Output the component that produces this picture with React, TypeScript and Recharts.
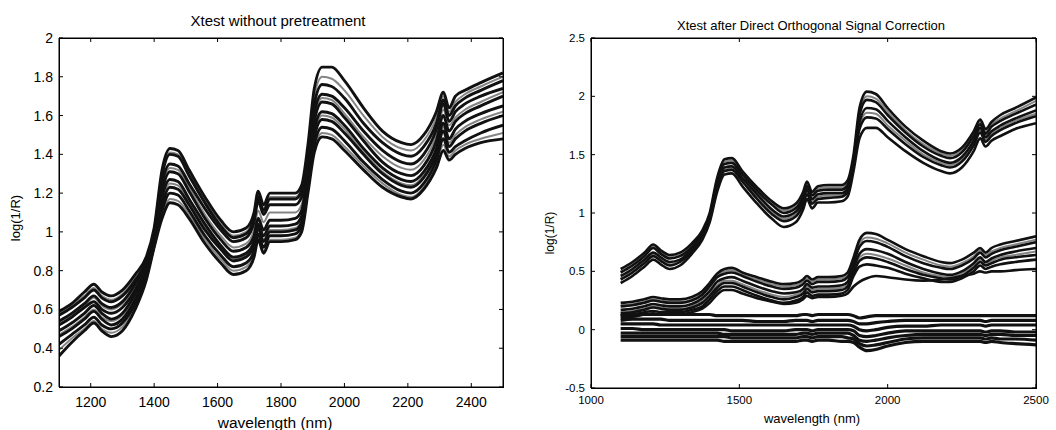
import React from 'react';
import { LineChart, Line, XAxis, YAxis } from 'recharts';

// wavelength grid (nm)
const W = [1100,1140,1180,1210,1235,1265,1300,1340,1375,1400,1425,1450,1475,1510,1560,1610,1650,1690,1715,1728,1745,1765,1800,1845,1865,1885,1905,1930,1960,2000,2060,2120,2180,2210,2250,2290,2312,2330,2350,2380,2430,2500];

// Left panel: raw spectra (log(1/R)) — dark curves
const L1 = [0.59,0.63,0.69,0.73,0.69,0.67,0.70,0.78,0.87,1.02,1.32,1.43,1.42,1.32,1.18,1.06,1.00,1.02,1.10,1.21,1.14,1.20,1.20,1.20,1.24,1.45,1.74,1.85,1.85,1.78,1.64,1.52,1.46,1.45,1.50,1.62,1.72,1.64,1.70,1.73,1.77,1.82];
const L2 = [0.57,0.61,0.66,0.70,0.66,0.64,0.67,0.75,0.85,1.00,1.29,1.40,1.39,1.29,1.15,1.03,0.97,0.99,1.07,1.18,1.11,1.17,1.17,1.17,1.21,1.40,1.66,1.76,1.75,1.69,1.56,1.46,1.40,1.39,1.44,1.56,1.68,1.60,1.65,1.69,1.73,1.78];
const L3 = [0.54,0.58,0.63,0.67,0.63,0.61,0.64,0.73,0.84,0.98,1.25,1.35,1.34,1.25,1.12,1.01,0.95,0.97,1.05,1.16,1.09,1.14,1.14,1.14,1.18,1.37,1.62,1.71,1.70,1.64,1.52,1.42,1.36,1.35,1.40,1.53,1.66,1.57,1.62,1.66,1.70,1.74];
const L4 = [0.52,0.56,0.61,0.64,0.60,0.58,0.61,0.70,0.82,0.96,1.21,1.31,1.30,1.21,1.07,0.96,0.90,0.92,0.98,1.07,1.01,1.06,1.06,1.07,1.11,1.32,1.57,1.67,1.66,1.59,1.47,1.36,1.30,1.29,1.34,1.47,1.60,1.52,1.57,1.61,1.65,1.70];
const L5 = [0.49,0.53,0.58,0.62,0.58,0.55,0.58,0.68,0.80,0.95,1.18,1.27,1.26,1.17,1.04,0.93,0.87,0.89,0.95,1.04,0.98,1.03,1.03,1.04,1.08,1.29,1.53,1.62,1.61,1.55,1.43,1.33,1.27,1.26,1.31,1.43,1.56,1.48,1.53,1.57,1.61,1.65];
const L6 = [0.46,0.50,0.55,0.59,0.55,0.52,0.55,0.65,0.78,0.94,1.14,1.23,1.22,1.14,1.01,0.91,0.85,0.87,0.93,1.02,0.95,1.00,1.00,1.01,1.05,1.26,1.49,1.58,1.57,1.51,1.40,1.30,1.24,1.23,1.28,1.40,1.52,1.44,1.48,1.52,1.56,1.60];
const L7 = [0.42,0.47,0.52,0.56,0.52,0.50,0.53,0.63,0.77,0.93,1.11,1.20,1.19,1.11,0.98,0.88,0.82,0.84,0.90,0.99,0.92,0.98,0.98,0.99,1.03,1.23,1.45,1.54,1.53,1.47,1.36,1.27,1.21,1.20,1.25,1.37,1.48,1.41,1.44,1.47,1.51,1.55];
const L8 = [0.36,0.43,0.49,0.53,0.49,0.46,0.49,0.60,0.75,0.92,1.07,1.15,1.14,1.07,0.94,0.84,0.78,0.80,0.87,0.96,0.89,0.95,0.95,0.96,1.00,1.20,1.41,1.49,1.48,1.42,1.32,1.23,1.18,1.17,1.22,1.33,1.42,1.37,1.40,1.43,1.46,1.48];
// Left panel: lighter curves inside the band
const G1 = [0.58,0.62,0.67,0.71,0.67,0.65,0.68,0.76,0.86,1.01,1.30,1.41,1.40,1.30,1.16,1.04,0.98,1.00,1.08,1.19,1.12,1.18,1.18,1.18,1.22,1.42,1.70,1.80,1.79,1.73,1.60,1.49,1.43,1.42,1.47,1.59,1.70,1.62,1.67,1.71,1.75,1.80];
const G2 = [0.53,0.57,0.62,0.66,0.62,0.60,0.63,0.72,0.83,0.97,1.23,1.33,1.32,1.23,1.09,0.98,0.92,0.94,1.01,1.11,1.05,1.10,1.10,1.10,1.14,1.34,1.59,1.69,1.68,1.61,1.49,1.39,1.33,1.32,1.37,1.50,1.63,1.55,1.59,1.63,1.67,1.72];
const G3 = [0.47,0.51,0.56,0.60,0.56,0.54,0.57,0.66,0.79,0.94,1.16,1.25,1.24,1.15,1.02,0.92,0.86,0.88,0.94,1.03,0.96,1.01,1.01,1.02,1.06,1.27,1.51,1.60,1.59,1.53,1.41,1.31,1.25,1.24,1.29,1.41,1.54,1.46,1.50,1.54,1.58,1.62];
const G4 = [0.39,0.45,0.50,0.54,0.50,0.48,0.51,0.61,0.76,0.92,1.09,1.17,1.16,1.09,0.96,0.86,0.80,0.82,0.88,0.97,0.90,0.96,0.96,0.97,1.01,1.21,1.43,1.51,1.50,1.44,1.34,1.25,1.19,1.18,1.23,1.35,1.45,1.39,1.42,1.45,1.48,1.51];

// Right panel: spectra after DOSC — upper group
const T1 = [0.52,0.58,0.66,0.73,0.68,0.64,0.66,0.74,0.85,1.00,1.30,1.46,1.47,1.36,1.22,1.10,1.04,1.08,1.18,1.27,1.18,1.23,1.24,1.24,1.28,1.50,1.90,2.04,2.02,1.90,1.74,1.62,1.53,1.51,1.56,1.70,1.80,1.72,1.78,1.84,1.90,1.99];
const T2 = [0.49,0.55,0.63,0.70,0.65,0.61,0.63,0.71,0.83,0.98,1.27,1.42,1.43,1.33,1.19,1.07,1.00,1.04,1.14,1.23,1.15,1.19,1.20,1.20,1.24,1.46,1.84,1.97,1.95,1.84,1.69,1.57,1.49,1.47,1.52,1.66,1.76,1.68,1.74,1.79,1.85,1.93];
const T3 = [0.46,0.52,0.60,0.66,0.62,0.58,0.60,0.69,0.81,0.96,1.24,1.39,1.40,1.30,1.16,1.03,0.97,1.01,1.11,1.20,1.12,1.16,1.17,1.17,1.21,1.43,1.78,1.90,1.89,1.79,1.65,1.53,1.45,1.43,1.48,1.62,1.73,1.65,1.70,1.75,1.81,1.88];
const T4 = [0.43,0.49,0.57,0.63,0.59,0.55,0.58,0.67,0.79,0.94,1.21,1.36,1.37,1.27,1.12,0.99,0.93,0.97,1.07,1.16,1.08,1.12,1.13,1.14,1.18,1.40,1.72,1.82,1.81,1.72,1.59,1.48,1.41,1.39,1.44,1.58,1.69,1.61,1.66,1.71,1.77,1.83];
const T5 = [0.40,0.46,0.54,0.60,0.56,0.52,0.55,0.65,0.77,0.92,1.18,1.33,1.34,1.23,1.08,0.95,0.88,0.92,1.03,1.12,1.04,1.09,1.09,1.10,1.14,1.36,1.64,1.73,1.73,1.65,1.53,1.43,1.36,1.34,1.39,1.53,1.64,1.57,1.62,1.66,1.72,1.77];
const RG1 = [0.50,0.56,0.64,0.71,0.66,0.62,0.64,0.72,0.84,0.99,1.28,1.44,1.45,1.34,1.20,1.08,1.02,1.06,1.16,1.25,1.16,1.21,1.22,1.22,1.26,1.48,1.87,2.00,1.98,1.87,1.71,1.59,1.51,1.49,1.54,1.68,1.78,1.70,1.76,1.81,1.87,1.96];
const RG2 = [0.44,0.50,0.58,0.64,0.60,0.56,0.59,0.68,0.80,0.95,1.22,1.37,1.38,1.28,1.14,1.01,0.95,0.99,1.09,1.18,1.10,1.14,1.15,1.15,1.19,1.41,1.75,1.86,1.85,1.75,1.62,1.50,1.43,1.41,1.46,1.60,1.71,1.63,1.68,1.73,1.79,1.85];

// Right panel: middle group
const M1 = [0.23,0.24,0.26,0.28,0.27,0.26,0.26,0.28,0.33,0.40,0.48,0.52,0.53,0.49,0.45,0.41,0.39,0.40,0.43,0.46,0.43,0.45,0.45,0.46,0.49,0.62,0.77,0.83,0.82,0.77,0.69,0.63,0.58,0.57,0.60,0.66,0.70,0.66,0.70,0.73,0.76,0.80];
const M2 = [0.20,0.21,0.23,0.25,0.24,0.23,0.23,0.25,0.30,0.37,0.45,0.48,0.49,0.46,0.41,0.37,0.35,0.36,0.39,0.42,0.39,0.41,0.41,0.42,0.45,0.57,0.71,0.76,0.75,0.71,0.63,0.57,0.53,0.52,0.55,0.61,0.66,0.62,0.65,0.68,0.71,0.75];
const M3 = [0.17,0.18,0.20,0.22,0.21,0.20,0.20,0.22,0.27,0.33,0.41,0.44,0.45,0.42,0.37,0.33,0.31,0.32,0.35,0.39,0.36,0.37,0.37,0.38,0.41,0.53,0.65,0.69,0.68,0.65,0.58,0.52,0.48,0.47,0.50,0.57,0.62,0.58,0.61,0.64,0.67,0.70];
const M4 = [0.14,0.15,0.17,0.19,0.18,0.17,0.17,0.19,0.23,0.29,0.36,0.40,0.40,0.37,0.32,0.28,0.26,0.28,0.31,0.35,0.32,0.33,0.33,0.34,0.37,0.49,0.59,0.62,0.61,0.58,0.52,0.47,0.44,0.43,0.46,0.53,0.58,0.55,0.57,0.60,0.62,0.64];
const M5 = [0.12,0.13,0.15,0.16,0.15,0.15,0.15,0.17,0.20,0.26,0.33,0.37,0.37,0.34,0.29,0.25,0.23,0.25,0.28,0.32,0.29,0.30,0.30,0.31,0.34,0.46,0.54,0.56,0.55,0.53,0.48,0.44,0.41,0.41,0.44,0.50,0.55,0.52,0.54,0.56,0.58,0.60];
const M6 = [0.10,0.11,0.13,0.14,0.13,0.13,0.13,0.15,0.18,0.23,0.30,0.34,0.34,0.31,0.27,0.24,0.22,0.23,0.26,0.29,0.27,0.28,0.28,0.29,0.31,0.37,0.41,0.44,0.46,0.45,0.43,0.42,0.43,0.44,0.46,0.48,0.50,0.49,0.50,0.50,0.51,0.52];
const MG1 = [0.21,0.22,0.24,0.26,0.25,0.24,0.24,0.26,0.31,0.38,0.46,0.50,0.51,0.47,0.43,0.39,0.37,0.38,0.41,0.44,0.41,0.43,0.43,0.44,0.47,0.59,0.74,0.79,0.78,0.74,0.66,0.60,0.55,0.54,0.57,0.63,0.68,0.64,0.67,0.70,0.73,0.77];
const MG2 = [0.15,0.16,0.18,0.20,0.19,0.18,0.18,0.20,0.25,0.31,0.38,0.42,0.42,0.39,0.34,0.30,0.28,0.30,0.33,0.37,0.34,0.35,0.35,0.36,0.39,0.51,0.62,0.65,0.64,0.61,0.55,0.49,0.46,0.45,0.48,0.55,0.60,0.56,0.59,0.62,0.64,0.67];

// Right panel: lower (near-zero) group
const B1 = [0.12,0.13,0.13,0.13,0.13,0.13,0.13,0.13,0.13,0.13,0.12,0.12,0.12,0.12,0.12,0.12,0.12,0.12,0.13,0.13,0.12,0.13,0.13,0.13,0.13,0.12,0.10,0.11,0.12,0.12,0.12,0.12,0.12,0.12,0.12,0.12,0.12,0.12,0.12,0.12,0.12,0.12];
const B2 = [0.08,0.09,0.09,0.09,0.09,0.08,0.08,0.08,0.08,0.08,0.08,0.08,0.08,0.08,0.07,0.07,0.07,0.08,0.08,0.08,0.07,0.08,0.08,0.08,0.08,0.07,0.05,0.05,0.06,0.07,0.08,0.08,0.08,0.08,0.08,0.08,0.08,0.07,0.08,0.08,0.08,0.08];
const B3 = [0.05,0.05,0.05,0.05,0.04,0.04,0.04,0.04,0.04,0.04,0.04,0.04,0.04,0.04,0.04,0.04,0.04,0.04,0.04,0.04,0.04,0.04,0.04,0.04,0.04,0.03,0.00,-0.01,0.00,0.02,0.03,0.03,0.04,0.04,0.04,0.04,0.04,0.03,0.04,0.04,0.04,0.04];
const B4 = [0.01,0.01,0.00,0.00,0.00,0.00,0.00,0.00,0.00,0.00,0.00,0.00,-0.01,-0.01,-0.01,-0.01,-0.01,0.00,0.00,0.00,-0.01,0.00,0.00,0.00,0.00,-0.01,-0.05,-0.06,-0.05,-0.03,-0.01,-0.01,-0.01,-0.01,-0.01,-0.01,-0.01,-0.02,-0.01,-0.01,-0.02,-0.02];
const B5 = [-0.03,-0.03,-0.03,-0.03,-0.03,-0.03,-0.03,-0.03,-0.03,-0.03,-0.03,-0.04,-0.04,-0.04,-0.04,-0.04,-0.04,-0.04,-0.03,-0.03,-0.04,-0.03,-0.03,-0.03,-0.03,-0.05,-0.09,-0.10,-0.09,-0.07,-0.05,-0.04,-0.04,-0.04,-0.04,-0.04,-0.04,-0.05,-0.04,-0.04,-0.05,-0.05];
const B6 = [-0.06,-0.06,-0.06,-0.06,-0.06,-0.06,-0.06,-0.06,-0.06,-0.06,-0.06,-0.06,-0.07,-0.07,-0.07,-0.07,-0.07,-0.07,-0.06,-0.06,-0.07,-0.06,-0.06,-0.06,-0.07,-0.08,-0.12,-0.14,-0.13,-0.11,-0.08,-0.07,-0.07,-0.07,-0.07,-0.07,-0.07,-0.08,-0.07,-0.08,-0.08,-0.09];
const B7 = [-0.09,-0.09,-0.09,-0.09,-0.09,-0.09,-0.09,-0.09,-0.09,-0.09,-0.09,-0.10,-0.10,-0.10,-0.10,-0.10,-0.10,-0.10,-0.09,-0.09,-0.10,-0.09,-0.09,-0.10,-0.10,-0.11,-0.15,-0.18,-0.17,-0.14,-0.11,-0.10,-0.10,-0.10,-0.10,-0.10,-0.10,-0.11,-0.10,-0.11,-0.12,-0.13];

// Axis ticks
const leftXTicks = [1200,1400,1600,1800,2000,2200,2400];
const leftYTicks = [0.2,0.4,0.6,0.8,1,1.2,1.4,1.6,1.8,2];
const rightXTicks = [1000,1500,2000,2500];
const rightYTicks = [-0.5,0,0.5,1,1.5,2,2.5];

const leftDark: Record<string, number[]> = { L1, L2, L3, L4, L5, L6, L7, L8 };
const leftLight: Record<string, number[]> = { G1, G2, G3, G4 };
const rightDark: Record<string, number[]> = { T1, T2, T3, T4, T5, M1, M2, M3, M4, M5, M6 };
const rightFlat: Record<string, number[]> = { B1, B2, B3, B4, B5, B6, B7 };
const rightLight: Record<string, number[]> = { RG1, RG2, MG1, MG2 };

function buildRows(...groups: Record<string, number[]>[]) {
  return W.map((w, i) => {
    const row: Record<string, number> = { w };
    groups.forEach((g) => Object.keys(g).forEach((k) => { row[k] = g[k][i]; }));
    return row;
  });
}

const leftRows = buildRows(leftDark, leftLight);
const rightRows = buildRows(rightDark, rightFlat, rightLight);

const FONT = '"Liberation Sans", Arial, Helvetica, sans-serif';
const axisLine = { stroke: '#000', strokeWidth: 1 };
const TM = 10; // tick margin used to locate the frame from the tick label position
const TL = 4;  // inward tick length

// MATLAB-style ticks: mark drawn inward from the frame, label outside
function makeTick(side: 'bottom' | 'left' | 'top' | 'right', fontSize: number, labelGap: number) {
  return (p: any) => {
    const x = p.x as number;
    const y = p.y as number;
    const v = p.payload ? p.payload.value : '';
    if (side === 'bottom') {
      const edge = y - TM;
      return (
        <g>
          <line x1={x} y1={edge} x2={x} y2={edge - TL} stroke="#000" strokeWidth={1} />
          <text x={x} y={edge + labelGap} dy="0.71em" textAnchor="middle" fontSize={fontSize} fontFamily={FONT} fill="#000">{String(v)}</text>
        </g>
      );
    }
    if (side === 'left') {
      const edge = x + TM;
      return (
        <g>
          <line x1={edge} y1={y} x2={edge + TL} y2={y} stroke="#000" strokeWidth={1} />
          <text x={edge - labelGap} y={y} dy="0.355em" textAnchor="end" fontSize={fontSize} fontFamily={FONT} fill="#000">{String(v)}</text>
        </g>
      );
    }
    if (side === 'top') {
      const edge = y + TM;
      return <line x1={x} y1={edge} x2={x} y2={edge + TL} stroke="#000" strokeWidth={1} />;
    }
    const edge = x - TM;
    return <line x1={edge} y1={y} x2={edge - TL} y2={y} stroke="#000" strokeWidth={1} />;
  };
}

type Group = { keys: string[]; color: string; width: number };

function Panel(props: {
  rows: Record<string, number>[];
  groups: Group[];
  xDomain: [number, number];
  yDomain: [number, number];
  xTicks: number[];
  yTicks: number[];
  margin: { top: number; right: number; bottom: number; left: number };
  fontSize: number;
  xGap: number;
  yGap: number;
}) {
  let first = true;
  return (
    <LineChart width={528} height={430} data={props.rows} margin={props.margin}>
      <XAxis xAxisId="b" dataKey="w" type="number" domain={props.xDomain} ticks={props.xTicks} allowDataOverflow
        height={30} tickSize={0} tickMargin={TM} axisLine={axisLine} tickLine={false} tick={makeTick('bottom', props.fontSize, props.xGap)} interval={0} />
      <XAxis xAxisId="t" dataKey="w" type="number" orientation="top" domain={props.xDomain} ticks={props.xTicks} allowDataOverflow
        height={1} tickSize={0} tickMargin={TM} axisLine={axisLine} tickLine={false} tick={makeTick('top', props.fontSize, 0)} interval={0} />
      <YAxis yAxisId="l" type="number" domain={props.yDomain} ticks={props.yTicks} allowDataOverflow
        width={40} tickSize={0} tickMargin={TM} axisLine={axisLine} tickLine={false} tick={makeTick('left', props.fontSize, props.yGap)} interval={0} />
      <YAxis yAxisId="r" type="number" orientation="right" domain={props.yDomain} ticks={props.yTicks} allowDataOverflow
        width={1} tickSize={0} tickMargin={TM} axisLine={axisLine} tickLine={false} tick={makeTick('right', props.fontSize, 0)} interval={0} />
      {props.groups.map((g) =>
        g.keys.map((k) => {
          // the first drawn series is tied to the top/right axes so that those axes are active too
          const onFrame = first;
          first = false;
          return (
            <Line key={k} xAxisId={onFrame ? 't' : 'b'} yAxisId={onFrame ? 'r' : 'l'} type="monotone" dataKey={k}
              stroke={g.color} strokeWidth={g.width} dot={false} activeDot={false} isAnimationActive={false} />
          );
        })
      )}
    </LineChart>
  );
}

const textBase: React.CSSProperties = { position: 'absolute', fontFamily: FONT, color: '#000', whiteSpace: 'nowrap', lineHeight: 1 };
const frame: React.CSSProperties = { position: 'absolute', border: '1px solid #000', boxSizing: 'border-box', pointerEvents: 'none' };

export default function App() {
  return (
    <div style={{ position: 'absolute', left: 0, top: 0, width: 1056, height: 430, background: '#fff', overflow: 'hidden' }}>
      <div style={{ position: 'absolute', left: 0, top: 0 }}>
        <Panel rows={leftRows}
          groups={[
            { keys: Object.keys(leftLight), color: '#858585', width: 2 },
            { keys: Object.keys(leftDark), color: '#111', width: 2.9 },
          ]}
          xDomain={[1100, 2500]} yDomain={[0.2, 2]}
          xTicks={leftXTicks} yTicks={leftYTicks} margin={{ top: 37, right: 24, bottom: 13, left: 19 }}
          fontSize={14} xGap={10} yGap={6} />
      </div>
      <div style={{ position: 'absolute', left: 528, top: 0 }}>
        <Panel rows={rightRows}
          groups={[
            { keys: Object.keys(rightLight), color: '#858585', width: 2 },
            { keys: Object.keys(rightDark), color: '#111', width: 2.6 },
            { keys: Object.keys(rightFlat), color: '#111', width: 3.2 },
          ]}
          xDomain={[1000, 2500]} yDomain={[-0.5, 2.5]}
          xTicks={rightXTicks} yTicks={rightYTicks} margin={{ top: 37, right: 19, bottom: 12, left: 23 }}
          fontSize={11.5} xGap={8} yGap={6} />
      </div>
      <div style={{ ...frame, left: 59, top: 38, width: 445, height: 350 }} />
      <div style={{ ...frame, left: 591, top: 38, width: 446, height: 351 }} />
      <div style={{ ...textBase, left: 278, top: 20, fontSize: 15, transform: 'translate(-50%,-50%)' }}>Xtest without pretreatment</div>
      <div style={{ ...textBase, left: 811, top: 25, fontSize: 13, transform: 'translate(-50%,-50%)' }}>Xtest after Direct Orthogonal Signal Correction</div>
      <div style={{ ...textBase, left: 275, top: 423, fontSize: 15.5, transform: 'translate(-50%,-50%)' }}>wavelength (nm)</div>
      <div style={{ ...textBase, left: 812, top: 418, fontSize: 13, transform: 'translate(-50%,-50%)' }}>wavelength (nm)</div>
      <div style={{ ...textBase, left: 15, top: 218, fontSize: 13, transform: 'translate(-50%,-50%) rotate(-90deg)' }}>log(1/R)</div>
      <div style={{ ...textBase, left: 550, top: 233, fontSize: 12, transform: 'translate(-50%,-50%) rotate(-90deg)' }}>log(1/R)</div>
    </div>
  );
}
